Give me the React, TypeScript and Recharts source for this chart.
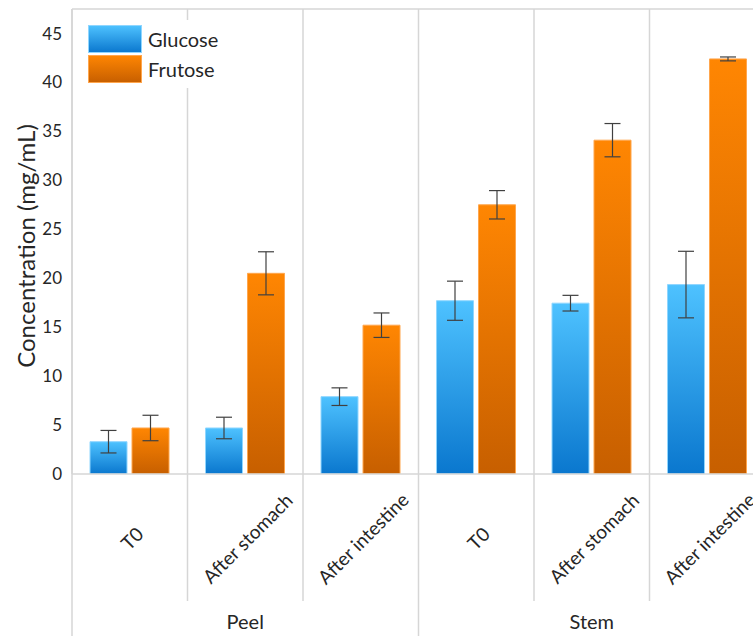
import React from 'react';
import { BarChart, Bar, XAxis, YAxis, ErrorBar, Legend, ReferenceLine } from 'recharts';

const categories = ['T0', 'After stomach', 'After intestine', 'T0', 'After stomach', 'After intestine'];
const groups = ['Peel', 'Stem'];
const glucose = [3.3, 4.7, 7.9, 17.7, 17.45, 19.35];
const glucoseErr = [1.15, 1.1, 0.9, 2.0, 0.8, 3.4];
const frutose = [4.7, 20.5, 15.2, 27.5, 34.1, 42.4];
const frutoseErr = [1.3, 2.2, 1.25, 1.45, 1.7, 0.2];
const yTicks = [0, 5, 10, 15, 20, 25, 30, 35, 40, 45];
const yMax = 47.5;

const data = categories.map((c, i) => ({
  id: `${i}`,
  label: c,
  Glucose: glucose[i],
  gErr: glucoseErr[i],
  Frutose: frutose[i],
  fErr: frutoseErr[i],
}));

const W = 770;
const H = 636;
const M = { top: 9, right: 5, left: 0, bottom: 0 };
const Y_AXIS_W = 72;
const X_AXIS_H = 162;
const PLOT_LEFT = M.left + Y_AXIS_W;
const PLOT_W = W - M.right - PLOT_LEFT;
const PLOT_TOP = M.top;
const BAND = PLOT_W / categories.length;
const GROUP_SIZE = categories.length / groups.length;
const FONT = 'Lato, "Open Sans", sans-serif';
const TEXT = '#262626';
const GRID = '#d6d6d6';

const XTick = (props: any) => {
  const { x, payload, index } = props;
  const i = index as number;
  const left = x - BAND / 2;
  const isGroupStart = i % GROUP_SIZE === 0;
  const isLast = i === categories.length - 1;
  const isGroupMid = i % GROUP_SIZE === Math.floor(GROUP_SIZE / 2);
  const labelY = 538;
  return (
    <g>
      <line x1={left} x2={left} y1={PLOT_TOP} y2={isGroupStart ? H : 601} stroke={GRID} strokeWidth={1.5} />
      {isLast && (
        <line x1={x + BAND / 2} x2={x + BAND / 2} y1={PLOT_TOP} y2={H} stroke={GRID} strokeWidth={1.5} />
      )}
      <text
        x={x + 2}
        y={labelY}
        textAnchor="middle"
        dominantBaseline="central"
        transform={`rotate(-45 ${x + 2} ${labelY})`}
        fontFamily={FONT}
        fontSize={19}
        fill={TEXT}
      >
        {categories[Number(payload.value)]}
      </text>
      {isGroupMid && (
        <text x={x} y={621} textAnchor="middle" dominantBaseline="central" fontFamily={FONT} fontSize={20} fill={TEXT}>
          {groups[Math.floor(i / GROUP_SIZE)]}
        </text>
      )}
    </g>
  );
};

const YTitle = () => {
  const cx = 25;
  const cy = 246;
  return (
    <text
      x={cx}
      y={cy}
      textAnchor="middle"
      dominantBaseline="central"
      transform={`rotate(-90 ${cx} ${cy})`}
      fontFamily={FONT}
      fontSize={24}
      fill={TEXT}
    >
      Concentration (mg/mL)
    </text>
  );
};

const LegendContent = () => {
  const items = [
    { name: 'Glucose', fill: 'url(#gradGlu)' },
    { name: 'Frutose', fill: 'url(#gradFru)' },
  ];
  return (
    <div style={{ background: '#fff', padding: '4px 6px 4px 8px' }}>
      {items.map((it, k) => (
        <div key={it.name} style={{ display: 'flex', alignItems: 'center', height: 30 }}>
          <svg width={54} height={28} style={{ display: 'block' }}>
            <rect x={0.5} y={0.5} width={53} height={27} fill={it.fill} stroke={k === 0 ? '#8fd6ff' : '#ffa64d'} strokeWidth={1} />
          </svg>
          <span style={{ marginLeft: 6, fontFamily: FONT, fontSize: 20, color: TEXT }}>{it.name}</span>
        </div>
      ))}
    </div>
  );
};

export default function App() {
  return (
    <div style={{ position: 'absolute', left: 0, top: 0, width: 753, height: 636, overflow: 'hidden', background: '#fff' }}>
      <svg width={0} height={0} style={{ position: 'absolute' }}>
        <defs>
          <linearGradient id="gradGlu" x1="0" y1="0" x2="0" y2="1">
            <stop offset="0%" stopColor="#4EC2FF" />
            <stop offset="100%" stopColor="#0A77CE" />
          </linearGradient>
          <linearGradient id="gradFru" x1="0" y1="0" x2="0" y2="1">
            <stop offset="0%" stopColor="#FF8602" />
            <stop offset="100%" stopColor="#C75F00" />
          </linearGradient>
        </defs>
      </svg>
      <BarChart width={W} height={H} data={data} margin={M} barCategoryGap={18} barGap={5}>
        <XAxis
          dataKey="id"
          height={X_AXIS_H}
          interval={0}
          tickLine={false}
          tickSize={0}
          tickMargin={0}
          axisLine={{ stroke: GRID, strokeWidth: 1.5 }}
          tick={<XTick />}
        />
        <YAxis
          width={Y_AXIS_W}
          domain={[0, yMax]}
          ticks={yTicks}
          allowDataOverflow
          tickLine={false}
          tickMargin={4}
          axisLine={{ stroke: GRID, strokeWidth: 1.5 }}
          tick={{ fontFamily: FONT, fontSize: 17, fill: TEXT }}
          label={<YTitle />}
        />
        <ReferenceLine y={yMax} stroke={GRID} strokeWidth={1.5} />
        <Legend
          layout="vertical"
          align="center"
          verticalAlign="middle"
          content={<LegendContent />}
          wrapperStyle={{ position: 'absolute', left: 80, top: 20, width: 'auto' }}
        />
        <Bar dataKey="Glucose" fill="url(#gradGlu)" stroke="#8fd6ff" strokeWidth={1} isAnimationActive={false}>
          <ErrorBar dataKey="gErr" width={8} stroke="#404040" strokeWidth={1.2} isAnimationActive={false} />
        </Bar>
        <Bar dataKey="Frutose" fill="url(#gradFru)" stroke="#ffa64d" strokeWidth={1} isAnimationActive={false}>
          <ErrorBar dataKey="fErr" width={8} stroke="#404040" strokeWidth={1.2} isAnimationActive={false} />
        </Bar>
      </BarChart>
    </div>
  );
}
